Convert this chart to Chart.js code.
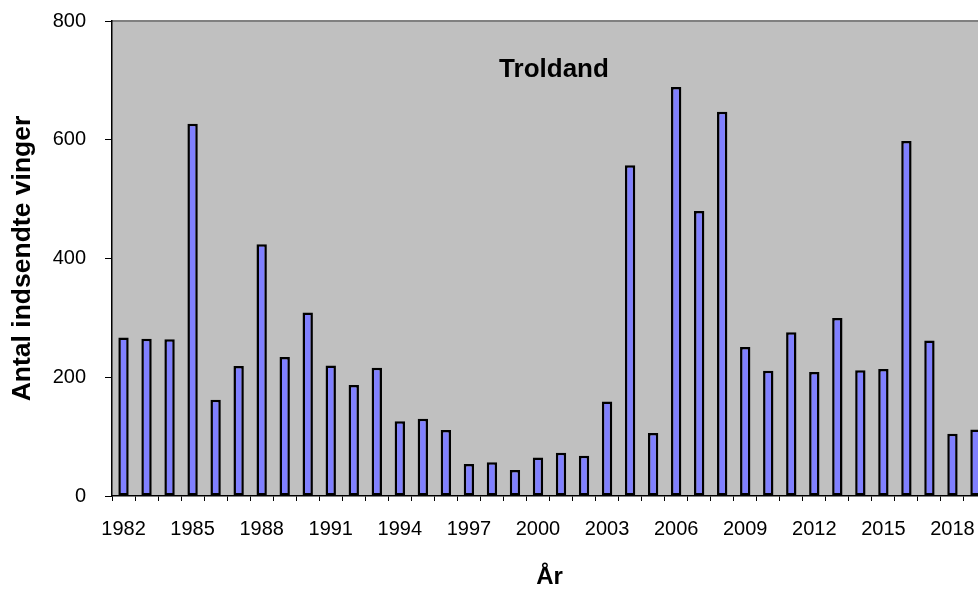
<!DOCTYPE html>
<html>
<head>
<meta charset="utf-8">
<script src="https://cdn.jsdelivr.net/npm/chart.js@4"></script>
<style>
	html, body { margin: 0; padding: 0; background: #fff; overflow: hidden; }
</style>
</head>
<body>
<canvas id="troldand" width="1000" height="592"></canvas>
<script>
const years = [
	1982, 1983, 1984, 1985, 1986, 1987, 1988, 1989, 1990, 1991, 1992, 1993, 1994,
	1995, 1996, 1997, 1998, 1999, 2000, 2001, 2002, 2003, 2004, 2005, 2006,
	2007, 2008, 2009, 2010, 2011, 2012, 2013, 2014, 2015, 2016, 2017, 2018, 2019
]
const wings = [
	267, 265, 264, 627, 162, 219, 424, 234, 309, 220, 187, 216, 126,
	130, 111, 54, 57, 44, 65, 73, 68, 159, 557, 106, 689,
	480, 647, 251, 211, 276, 209, 300, 212, 214, 598, 262, 105, 112
]
const yTicks = [0, 200, 400, 600, 800]

const font = "'Liberation Sans', Arial, sans-serif"

// grey plot area with the grey top edge, and the title inside it
const plotArea = {
	id: 'plotArea',
	beforeDraw(chart) {
		const {ctx, chartArea: a} = chart
		ctx.save()
		ctx.fillStyle = '#c0c0c0'
		ctx.fillRect(a.left, a.top, a.right - a.left, a.bottom - a.top)
		ctx.strokeStyle = '#808080'
		ctx.lineWidth = 2
		ctx.beginPath()
		ctx.moveTo(a.left, a.top)
		ctx.lineTo(a.right, a.top)
		ctx.stroke()
		ctx.restore()
	},
	afterDraw(chart) {
		const ctx = chart.ctx
		ctx.save()
		ctx.font = "bold 26px " + font
		ctx.fillStyle = '#000'
		ctx.textAlign = 'center'
		ctx.textBaseline = 'middle'
		ctx.fillText('Troldand', 554, 70)
		ctx.restore()
	}
}

const chart = new Chart('troldand', {
	type: 'bar',
	data: {
		labels: years,
		datasets: [
			{
				label: 'Troldand',
				data: wings,
				backgroundColor: '#8080ff',
				borderColor: '#000',
				borderWidth: 2.5,
				borderSkipped: false,
				barPercentage: 0.45,
				categoryPercentage: 1
			}
		]
	},
	options: {
		responsive: false,
		animation: false,
		layout: { padding: { left: 0, top: 21, right: 13, bottom: 0 } },
		plugins: {
			legend: { display: false },
			tooltip: { enabled: false }
		},
		scales: {
			x: {
				afterFit: (s) => { s.height = 96; s.paddingLeft = 0; s.paddingRight = 0 },
				grid: {
					offset: true,
					drawOnChartArea: false,
					drawTicks: true,
					tickLength: 5,
					color: '#000'
				},
				border: { color: '#000', width: 1.5 },
				ticks: {
					autoSkip: false,
					maxRotation: 0,
					padding: 16,
					color: '#000',
					font: { family: font, size: 20 },
					callback: (v, i) => (i % 3 === 0 ? String(years[i]) : '')
				},
				title: {
					display: true,
					text: 'År',
					color: '#000',
					font: { family: font, size: 24, weight: 'bold' },
					padding: { top: 0, bottom: 0 }
				}
			},
			y: {
				min: 0,
				max: 800,
				afterFit: (s) => { s.width = 112; s.paddingTop = 0; s.paddingBottom = 0 },
				afterBuildTicks: (s) => { s.ticks = yTicks.map((v) => ({ value: v })) },
				grid: {
					drawOnChartArea: false,
					drawTicks: true,
					tickLength: 7,
					color: '#000'
				},
				border: { color: '#000', width: 1.5 },
				ticks: {
					padding: 19,
					color: '#000',
					font: { family: font, size: 20 }
				},
				title: {
					display: true,
					text: 'Antal indsendte vinger',
					color: '#000',
					font: { family: font, size: 26.5, weight: 'bold' },
					padding: { top: 7, bottom: 0 }
				}
			}
		}
	},
	plugins: [plotArea]
})
</script>
</body>
</html>
